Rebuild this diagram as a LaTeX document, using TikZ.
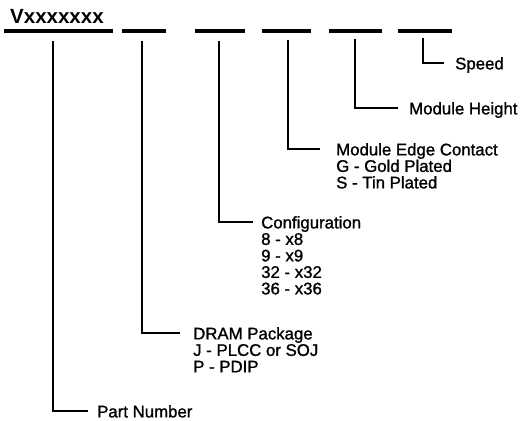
\documentclass[tikz,border=0pt]{standalone}
\usepackage{fontspec}
\setmainfont{Liberation Sans}
\newfontfamily\scanfont{Liberation Sans}[FakeBold=1.2]
\usetikzlibrary{positioning, calc}

\begin{document}
\begin{tikzpicture}[x=1pt, y=-1pt,
    bar/.style={line width=4.2pt},
    lead/.style={line width=2.6pt},
    lbl/.style={anchor=north west, inner sep=0pt, align=left,
        font=\scanfont\fontsize{16.8}{16.5}\selectfont}]
    \useasboundingbox (0,0) rectangle (521,420);
    \node[anchor=base west, inner sep=0pt, font=\fontsize{20.5}{24}\selectfont\bfseries] (pn) at (10,24) {Vxxxxxxx};
    \foreach \a/\b in {4/113, 122/166, 195/245, 262/311, 329/382, 398/452}
        \draw[bar] (\a,31) -- (\b,31);
    \coordinate (t1) at (53,41);
    \coordinate (t2) at (142,41);
    \coordinate (t3) at (219,41);
    \coordinate (t4) at (288,40);
    \coordinate (t5) at (355,39);
    \coordinate (t6) at (423,38);
    \node[lbl] (part) at (97,405) {Part Number};
    \node[lbl] (dram) at (193,327) {DRAM Package\\J - PLCC or SOJ\\P - PDIP};
    \node[lbl] (config) at (261,216) {Configuration\\8 - x8\\9 - x9\\32 - x32\\36 - x36};
    \node[lbl] (edge) at (336,143) {Module Edge Contact\\G - Gold Plated\\S - Tin Plated};
    \node[lbl] (height) at (409,102) {Module Height};
    \node[lbl] (speed) at (455,57) {Speed};
    \foreach \t/\n/\g in {t1/part/9, t2/dram/13, t3/config/8, t4/edge/16, t5/height/11, t6/speed/11}
        \draw[lead] (\t) |- ($(\n.north west)+(-\g,6)$);
\end{tikzpicture}
\end{document}
